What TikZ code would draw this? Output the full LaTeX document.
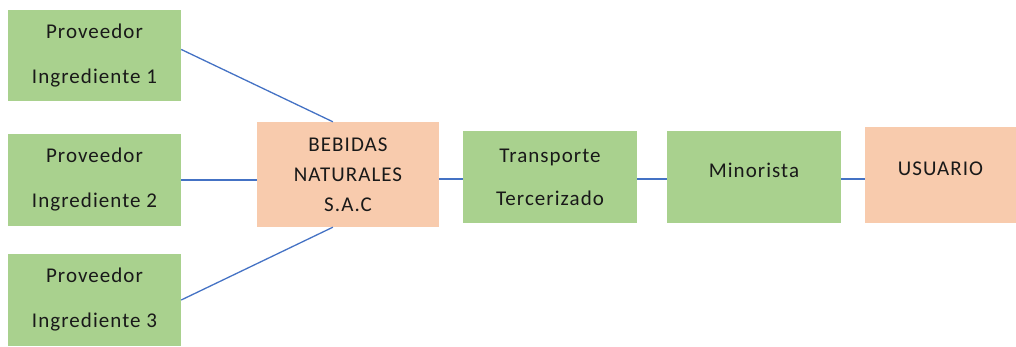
\documentclass[tikz,border=0pt]{standalone}
\usepackage{fontspec}
\setmainfont{Carlito}[LetterSpace=5]
\definecolor{boxgreen}{HTML}{A9D18E}
\definecolor{boxorange}{HTML}{F8CBAD}
\definecolor{linkblue}{HTML}{4472C4}
\begin{document}
\begin{tikzpicture}[x=1pt,y=-1pt,
  gbox/.style={fill=boxgreen, draw=none, align=center, inner sep=0pt, text=black!90},
  obox/.style={fill=boxorange, draw=none, align=center, inner sep=0pt, text=black!90},
  link/.style={draw=linkblue, line width=1.3pt}]
\useasboundingbox (0,0) rectangle (1016,347);
\node[gbox, minimum width=173pt, minimum height=91pt, font={\fontsize{21}{45}\selectfont}] (p1) at (94.5,55.5) {\raisebox{-2pt}{Proveedor}\\\raisebox{-2pt}{Ingrediente 1}};
\node[gbox, minimum width=173pt, minimum height=92pt, font={\fontsize{21}{45}\selectfont}] (p2) at (94.5,180) {\raisebox{-2pt}{Proveedor}\\\raisebox{-2pt}{Ingrediente 2}};
\node[gbox, minimum width=173pt, minimum height=92pt, font={\fontsize{21}{45}\selectfont}] (p3) at (94.5,300) {\raisebox{-2pt}{Proveedor}\\\raisebox{-2pt}{Ingrediente 3}};
\node[obox, minimum width=182pt, minimum height=105pt, font={\fontsize{21}{30}\selectfont}] (bb) at (348,174.5) {BEBIDAS\\NATURALES\\S.A.C};
\node[gbox, minimum width=174pt, minimum height=92pt, font={\fontsize{21}{43}\selectfont}] (tr) at (550,177) {Transporte\\Tercerizado};
\node[gbox, minimum width=174pt, minimum height=92pt, font={\fontsize{21}{24}\selectfont}] (mi) at (754,177) {\raisebox{13pt}{Minorista}};
\node[obox, minimum width=151pt, minimum height=96pt, font={\fontsize{21}{24}\selectfont}] (us) at (940.5,175) {\raisebox{13pt}{USUARIO}};
\draw[link] (p1.4) -- (bb.106);
\draw[link] (p2.east) -- (bb.west |- p2.east);
\draw[link] (p3.east) -- (bb.254);
\draw[link] ([yshift=-2pt]bb.east |- tr.west) -- ([yshift=-2pt]tr.west);
\draw[link] ([yshift=-2pt]tr.east) -- ([yshift=-2pt]mi.west);
\draw[link] ([yshift=-2pt]mi.east) -- ([yshift=-2pt]us.west |- mi.east);
\end{tikzpicture}
\end{document}
